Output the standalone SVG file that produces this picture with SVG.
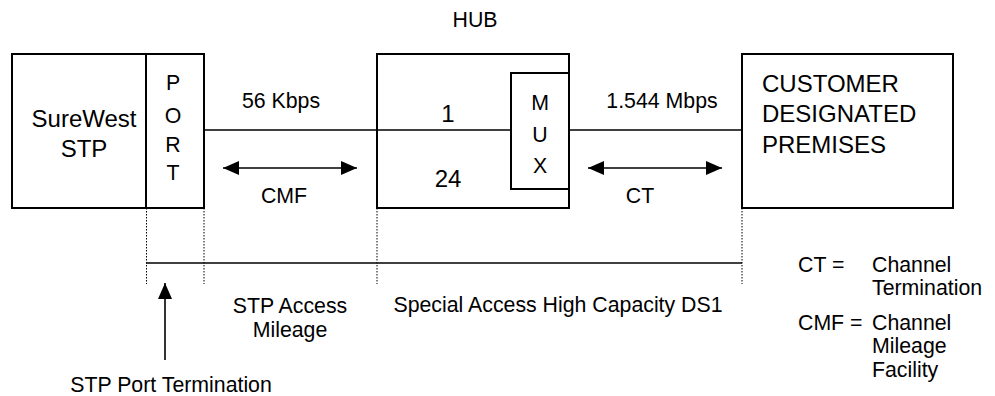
<svg xmlns="http://www.w3.org/2000/svg" width="995" height="396" viewBox="0 0 995 396">
<style>
text{font-family:"Liberation Sans",Arial,sans-serif;font-size:21.3px;fill:#000}
.big{font-size:24px}
.box{fill:#fff;stroke:#000;stroke-width:2}
.ln{stroke:#000;stroke-width:1.6;fill:none}
.dot{stroke:#000;stroke-width:1;stroke-dasharray:1.5 1.5;fill:none}
</style>
<defs>
<marker id="ah" viewBox="0 0 16 14" refX="16" refY="7" markerWidth="16" markerHeight="14" markerUnits="userSpaceOnUse" orient="auto-start-reverse">
<path d="M0,0 L16,7 L0,14 Z" fill="#000"/>
</marker>
</defs>
<rect width="995" height="396" fill="#fff"/>
<text x="475" y="27" text-anchor="middle">HUB</text>
<g id="connectors">
<line class="ln" x1="204" y1="130" x2="377" y2="130"/>
<line class="ln" x1="569" y1="130" x2="742" y2="130"/>
<line class="ln" x1="223" y1="168" x2="357" y2="168" marker-start="url(#ah)" marker-end="url(#ah)"/>
<line class="ln" x1="588" y1="168" x2="722" y2="168" marker-start="url(#ah)" marker-end="url(#ah)"/>
<line class="dot" x1="146.5" y1="208" x2="146.5" y2="284"/>
<line class="dot" x1="204" y1="208" x2="204" y2="284"/>
<line class="dot" x1="377" y1="208" x2="377" y2="284"/>
<line class="dot" x1="742" y1="208" x2="742" y2="284"/>
<line class="ln" x1="146" y1="263" x2="742" y2="263" stroke-width="2"/>
<line class="ln" x1="165" y1="360" x2="165" y2="283" marker-end="url(#ah)"/>
</g>
<g id="surewest">
<rect class="box" x="12" y="54" width="134" height="154"/>
<text class="big" x="84" y="127" text-anchor="middle">SureWest</text>
<text class="big" x="84" y="157" text-anchor="middle">STP</text>
</g>
<g id="port">
<rect class="box" x="146" y="54" width="58" height="154"/>
<text x="173" y="90" text-anchor="middle">P</text>
<text x="173" y="123" text-anchor="middle">O</text>
<text x="173" y="152" text-anchor="middle">R</text>
<text x="173" y="180" text-anchor="middle">T</text>
</g>
<g id="hub">
<rect class="box" x="377" y="54" width="192" height="154"/>
<line class="ln" x1="377" y1="130" x2="511" y2="130"/>
<text class="big" x="448" y="122" text-anchor="middle">1</text>
<text class="big" x="448" y="187" text-anchor="middle">24</text>
</g>
<g id="mux">
<rect class="box" x="511" y="73" width="58" height="116"/>
<text x="540" y="110" text-anchor="middle">M</text>
<text x="540" y="142" text-anchor="middle">U</text>
<text x="540" y="173" text-anchor="middle">X</text>
</g>
<g id="customer">
<rect class="box" x="742" y="54" width="211" height="154"/>
<text class="big" x="762" y="92">CUSTOMER</text>
<text class="big" x="762" y="122">DESIGNATED</text>
<text class="big" x="762" y="153">PREMISES</text>
</g>
<g id="labels">
<text x="281" y="108" text-anchor="middle">56 Kbps</text>
<text x="662" y="108" text-anchor="middle">1.544 Mbps</text>
<text x="284" y="203" text-anchor="middle">CMF</text>
<text x="640" y="203" text-anchor="middle">CT</text>
<text x="290" y="313" text-anchor="middle">STP Access</text>
<text x="290" y="337" text-anchor="middle">Mileage</text>
<text x="558" y="312" text-anchor="middle">Special Access High Capacity DS1</text>
<text x="171" y="392" text-anchor="middle">STP Port Termination</text>
</g>
<g id="legend">
<text x="798" y="272">CT =</text>
<text x="872" y="272">Channel</text>
<text x="872" y="295">Termination</text>
<text x="798" y="330">CMF =</text>
<text x="872" y="330">Channel</text>
<text x="872" y="353">Mileage</text>
<text x="872" y="377">Facility</text>
</g>
</svg>
